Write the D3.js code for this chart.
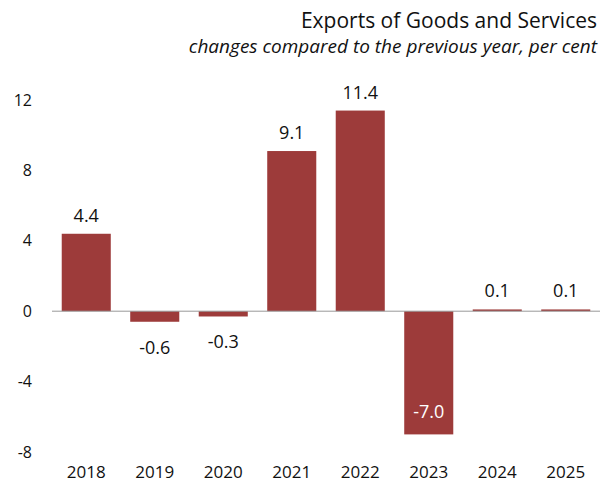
<!DOCTYPE html>
<html>
<head>
<meta charset="utf-8">
<script src="https://cdn.jsdelivr.net/npm/d3@7"></script>
<style>
  body { margin: 0; background: #fff; }
  text { font-family: "Open Sans", sans-serif; fill: #111; }
</style>
</head>
<body>
<svg id="chart" width="600" height="486"></svg>
<script>
const years = ['2018', '2019', '2020', '2021', '2022', '2023', '2024', '2025'];
const exportsGrowth = [4.4, -0.6, -0.3, 9.1, 11.4, -7.0, 0.1, 0.1];
const yTicks = [-8, -4, 0, 4, 8, 12];

const data = years.map((y, i) => ({ year: y, value: exportsGrowth[i] }));

const svg = d3.select('#chart');
const width = +svg.attr('width');

const x = d3.scaleBand()
    .domain(years)
    .range([52, 600])
    .paddingInner(0.284)
    .paddingOuter(0.142);

const y = d3.scaleLinear()
    .domain([-8, 12])
    .range([452, 100]);

// title
svg.append('text')
    .attr('x', width - 3).attr('y', 28)
    .attr('text-anchor', 'end')
    .style('font-size', '21px')
    .text('Exports of Goods and Services');
svg.append('text')
    .attr('x', width - 3).attr('y', 53)
    .attr('text-anchor', 'end')
    .style('font-size', '19px')
    .style('font-style', 'italic')
    .text('changes compared to the previous year, per cent');

// y axis labels only
const yAxis = svg.append('g')
    .attr('transform', 'translate(32,0)')
    .call(d3.axisLeft(y).tickValues(yTicks).tickSize(0).tickPadding(0)
      .tickFormat(d => String(d)));
yAxis.select('.domain').remove();
yAxis.selectAll('text')
    .style('font-size', '16px')
    .style('font-family', '"Open Sans", sans-serif')
    .attr('fill', '#111');

// bars
svg.append('g')
    .attr('fill', '#9d3b3a')
  .selectAll('rect')
    .data(data)
  .enter().append('rect')
    .attr('x', d => x(d.year))
    .attr('y', d => y(Math.max(0, d.value)))
    .attr('width', x.bandwidth())
    .attr('height', d => Math.max(1.5, Math.abs(y(d.value) - y(0))));

// zero line
svg.append('line')
    .attr('x1', 52).attr('x2', 600)
    .attr('y1', y(0)).attr('y2', y(0))
    .attr('stroke', '#999').attr('stroke-width', 1);

// value labels
svg.append('g')
  .selectAll('text')
    .data(data)
  .enter().append('text')
    .attr('x', d => x(d.year) + x.bandwidth() / 2)
    .attr('y', d => {
      if (d.value >= 0) return y(d.value) - 12;
      if (d.value < -3) return y(d.value) - 16;
      return y(d.value) + 32;
    })
    .attr('text-anchor', 'middle')
    .style('font-size', '18px')
    .style('fill', d => d.value < -3 ? '#fff' : '#111')
    .text(d => d.value.toFixed(1));

// x axis labels
svg.append('g')
  .selectAll('text')
    .data(years)
  .enter().append('text')
    .attr('x', d => x(d) + x.bandwidth() / 2)
    .attr('y', 478)
    .attr('text-anchor', 'middle')
    .style('font-size', '17px')
    .text(d => d);
</script>
</body>
</html>
